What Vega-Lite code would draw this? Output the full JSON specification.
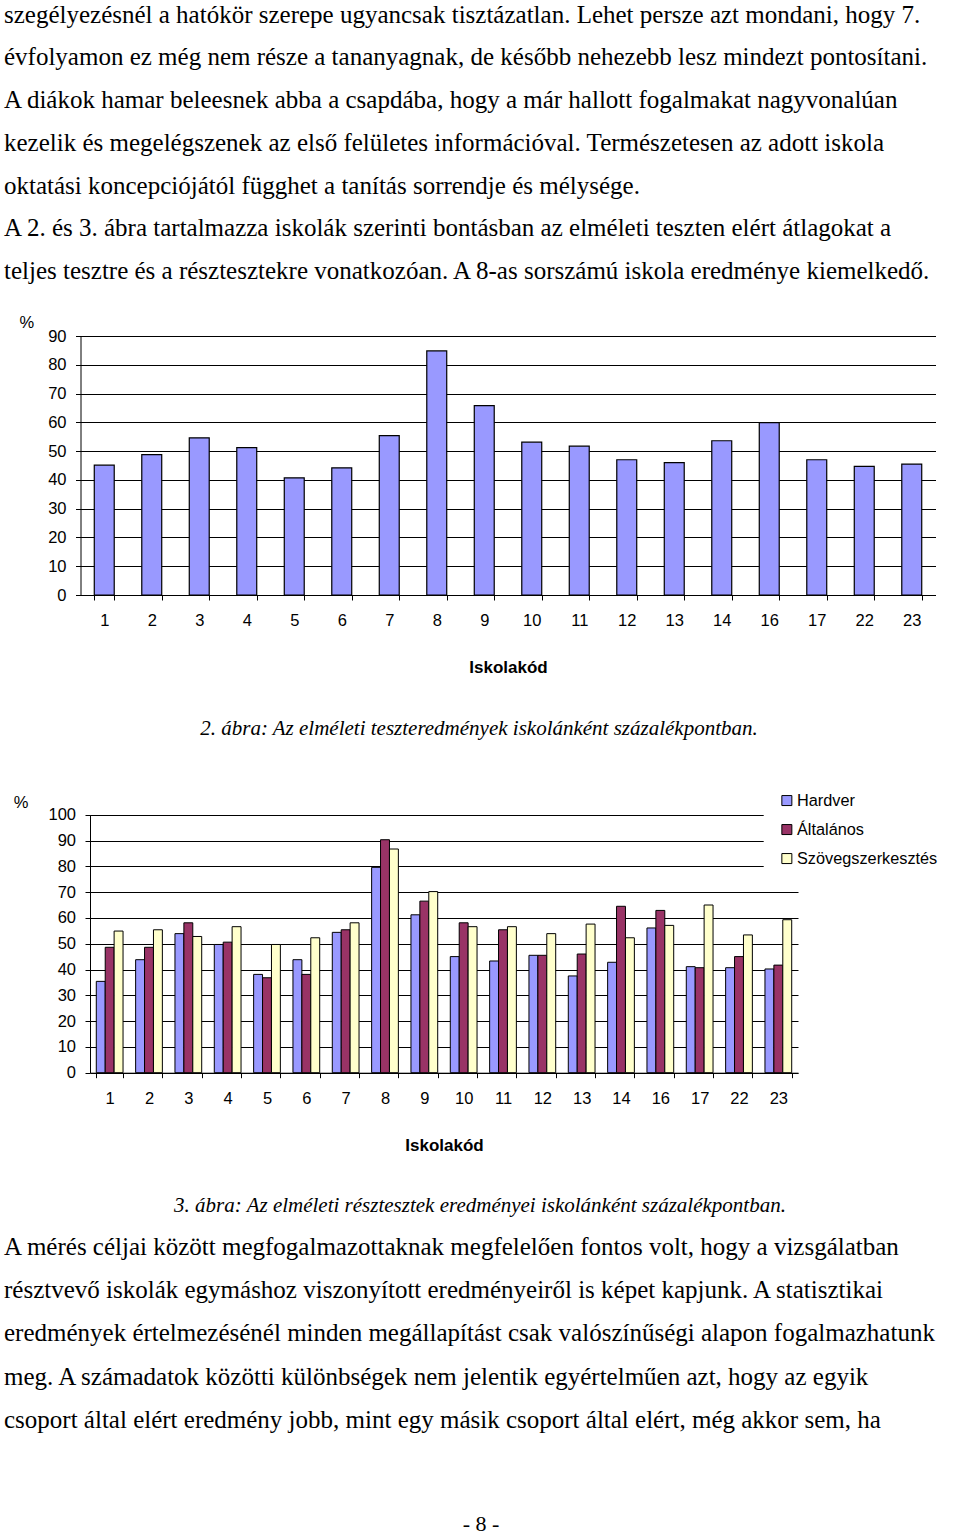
{
  "$schema": "https://vega.github.io/schema/vega-lite/v6.json",
  "background": "white",
  "padding": 0,
  "autosize": {"type": "none"},
  "width": 960,
  "height": 1537,
  "config": {
    "view": {"stroke": null},
    "axis": {
      "labelFont": "Liberation Sans", "labelFontSize": 16.5, "labelColor": "black",
      "titleFont": "Liberation Sans", "titleFontSize": 17, "titleColor": "black",
      "domainColor": "black", "domainWidth": 1, "tickColor": "black", "tickWidth": 1, "tickSize": 5,
      "gridColor": "black", "gridOpacity": 1, "gridWidth": 1
    }
  },
  "datasets": {
    "top": [
      {"line": 1, "text": "szegélyezésnél a hatókör szerepe ugyancsak tisztázatlan. Lehet persze azt mondani, hogy 7."},
      {"line": 2, "text": "évfolyamon ez még nem része a tananyagnak, de később nehezebb lesz mindezt pontosítani."},
      {"line": 3, "text": "A diákok hamar beleesnek abba a csapdába, hogy a már hallott fogalmakat nagyvonalúan"},
      {"line": 4, "text": "kezelik és megelégszenek az első felületes információval. Természetesen az adott iskola"},
      {"line": 5, "text": "oktatási koncepciójától függhet a tanítás sorrendje és mélysége."},
      {"line": 6, "text": "A 2. és 3. ábra tartalmazza iskolák szerinti bontásban az elméleti teszten elért átlagokat a"},
      {"line": 7, "text": "teljes tesztre és a résztesztekre vonatkozóan. A 8-as sorszámú iskola eredménye kiemelkedő."}
    ],
    "caption1": [
      {"line": 0, "text": "2. ábra: Az elméleti teszteredmények iskolánként százalékpontban."}
    ],
    "caption2": [
      {"line": 0, "text": "3. ábra: Az elméleti résztesztek eredményei iskolánként százalékpontban."}
    ],
    "bottom": [
      {"line": 1, "text": "A mérés céljai között megfogalmazottaknak megfelelően fontos volt, hogy a vizsgálatban"},
      {"line": 2, "text": "résztvevő iskolák egymáshoz viszonyított eredményeiről is képet kapjunk. A statisztikai"},
      {"line": 3, "text": "eredmények értelmezésénél minden megállapítást csak valószínűségi alapon fogalmazhatunk"},
      {"line": 4, "text": "meg. A számadatok közötti különbségek nem jelentik egyértelműen azt, hogy az egyik"},
      {"line": 5, "text": "csoport által elért eredmény jobb, mint egy másik csoport által elért, még akkor sem, ha"}
    ],
    "pagenum": [
      {"line": 0, "text": "- 8 -"}
    ],
    "chart1": [
      {"code": "1", "pct": 45.1}, {"code": "2", "pct": 48.8}, {"code": "3", "pct": 54.6},
      {"code": "4", "pct": 51.2}, {"code": "5", "pct": 40.7}, {"code": "6", "pct": 44.2},
      {"code": "7", "pct": 55.4}, {"code": "8", "pct": 84.8}, {"code": "9", "pct": 65.8},
      {"code": "10", "pct": 53.1}, {"code": "11", "pct": 51.7}, {"code": "12", "pct": 47.0},
      {"code": "13", "pct": 46.0}, {"code": "14", "pct": 53.6}, {"code": "16", "pct": 59.9},
      {"code": "17", "pct": 47.0}, {"code": "22", "pct": 44.7}, {"code": "23", "pct": 45.5}
    ],
    "chart2": [
      {"code": "1", "teszt": "Hardver", "pct": 35.4}, {"code": "1", "teszt": "Általános", "pct": 48.6}, {"code": "1", "teszt": "Szövegszerkesztés", "pct": 54.9},
      {"code": "2", "teszt": "Hardver", "pct": 43.8}, {"code": "2", "teszt": "Általános", "pct": 48.6}, {"code": "2", "teszt": "Szövegszerkesztés", "pct": 55.4},
      {"code": "3", "teszt": "Hardver", "pct": 53.9}, {"code": "3", "teszt": "Általános", "pct": 58.1}, {"code": "3", "teszt": "Szövegszerkesztés", "pct": 52.8},
      {"code": "4", "teszt": "Hardver", "pct": 49.7}, {"code": "4", "teszt": "Általános", "pct": 50.6}, {"code": "4", "teszt": "Szövegszerkesztés", "pct": 56.6},
      {"code": "5", "teszt": "Hardver", "pct": 38.1}, {"code": "5", "teszt": "Általános", "pct": 36.8}, {"code": "5", "teszt": "Szövegszerkesztés", "pct": 49.7},
      {"code": "6", "teszt": "Hardver", "pct": 43.8}, {"code": "6", "teszt": "Általános", "pct": 38.1}, {"code": "6", "teszt": "Szövegszerkesztés", "pct": 52.3},
      {"code": "7", "teszt": "Hardver", "pct": 54.4}, {"code": "7", "teszt": "Általános", "pct": 55.4}, {"code": "7", "teszt": "Szövegszerkesztés", "pct": 58.1},
      {"code": "8", "teszt": "Hardver", "pct": 79.6}, {"code": "8", "teszt": "Általános", "pct": 90.3}, {"code": "8", "teszt": "Szövegszerkesztés", "pct": 86.7},
      {"code": "9", "teszt": "Hardver", "pct": 61.2}, {"code": "9", "teszt": "Általános", "pct": 66.5}, {"code": "9", "teszt": "Szövegszerkesztés", "pct": 70.2},
      {"code": "10", "teszt": "Hardver", "pct": 45.0}, {"code": "10", "teszt": "Általános", "pct": 58.1}, {"code": "10", "teszt": "Szövegszerkesztés", "pct": 56.6},
      {"code": "11", "teszt": "Hardver", "pct": 43.3}, {"code": "11", "teszt": "Általános", "pct": 55.4}, {"code": "11", "teszt": "Szövegszerkesztés", "pct": 56.6},
      {"code": "12", "teszt": "Hardver", "pct": 45.5}, {"code": "12", "teszt": "Általános", "pct": 45.5}, {"code": "12", "teszt": "Szövegszerkesztés", "pct": 53.9},
      {"code": "13", "teszt": "Hardver", "pct": 37.5}, {"code": "13", "teszt": "Általános", "pct": 46.0}, {"code": "13", "teszt": "Szövegszerkesztés", "pct": 57.6},
      {"code": "14", "teszt": "Hardver", "pct": 42.8}, {"code": "14", "teszt": "Általános", "pct": 64.5}, {"code": "14", "teszt": "Szövegszerkesztés", "pct": 52.3},
      {"code": "16", "teszt": "Hardver", "pct": 56.1}, {"code": "16", "teszt": "Általános", "pct": 62.9}, {"code": "16", "teszt": "Szövegszerkesztés", "pct": 57.1},
      {"code": "17", "teszt": "Hardver", "pct": 41.1}, {"code": "17", "teszt": "Általános", "pct": 40.7}, {"code": "17", "teszt": "Szövegszerkesztés", "pct": 65.0},
      {"code": "22", "teszt": "Hardver", "pct": 40.7}, {"code": "22", "teszt": "Általános", "pct": 45.0}, {"code": "22", "teszt": "Szövegszerkesztés", "pct": 53.4},
      {"code": "23", "teszt": "Hardver", "pct": 40.2}, {"code": "23", "teszt": "Általános", "pct": 41.7}, {"code": "23", "teszt": "Szövegszerkesztés", "pct": 59.3}
    ]
  },
  "resolve": {
    "scale": {"x": "independent", "y": "independent", "xOffset": "independent", "color": "independent"},
    "axis": {"x": "independent", "y": "independent"}
  },
  "layer": [
    {
      "data": {"name": "top"},
      "mark": {"type": "text", "align": "left", "baseline": "alphabetic", "font": "Liberation Serif", "fontSize": 25, "color": "black"},
      "encoding": {
        "x": {"datum": 4, "type": "quantitative", "scale": {"domain": [0, 960], "range": [0, 960], "nice": false, "zero": false}, "axis": null},
        "y": {"field": "line", "type": "quantitative", "scale": {"domain": [1, 7], "range": [22.5, 279], "nice": false, "zero": false}, "axis": null},
        "text": {"field": "text"}
      }
    },
    {
      "data": {"name": "chart1"},
      "mark": {"type": "bar", "fill": "#9999FF", "stroke": "black", "strokeWidth": 1.2},
      "encoding": {
        "x": {
          "field": "code", "type": "ordinal", "sort": null,
          "scale": {"range": [80.5, 935.5], "paddingInner": 0.58, "paddingOuter": 0.29},
          "axis": {
            "orient": "bottom", "offset": -942,
            "title": "Iskolakód", "labelAngle": 0, "tickBand": "extent", "grid": false,
            "labelBaseline": "middle", "labelPadding": 20,
            "titleY": 72, "titleBaseline": "middle", "titleFontWeight": "bold"
          }
        },
        "y": {
          "field": "pct", "type": "quantitative",
          "scale": {"domain": [0, 90], "range": [595, 336], "nice": false},
          "axis": {
            "orient": "left", "offset": -80.5,
            "title": "%", "values": [0, 10, 20, 30, 40, 50, 60, 70, 80, 90], "grid": true,
            "titleAngle": 0, "titleX": -61.5, "titleY": 322, "titleAlign": "left", "titleBaseline": "middle",
            "titleFontWeight": "normal", "titleFontSize": 16.5, "labelPadding": 9.5
          }
        }
      }
    },
    {
      "data": {"name": "caption1"},
      "mark": {"type": "text", "align": "center", "baseline": "alphabetic", "font": "Liberation Serif", "fontStyle": "italic", "fontSize": 21, "color": "black"},
      "encoding": {
        "x": {"datum": 479, "type": "quantitative", "scale": {"domain": [0, 960], "range": [0, 960], "nice": false, "zero": false}, "axis": null},
        "y": {"field": "line", "type": "quantitative", "scale": {"domain": [0, 1], "range": [735, 778.2], "nice": false, "zero": false}, "axis": null},
        "text": {"field": "text"}
      }
    },
    {
      "data": {"name": "chart2"},
      "mark": {"type": "bar", "stroke": "black", "strokeWidth": 1},
      "encoding": {
        "x": {
          "field": "code", "type": "ordinal", "sort": null,
          "scale": {"range": [90, 798], "paddingInner": 0.32, "paddingOuter": 0.16},
          "axis": {
            "orient": "bottom", "offset": -464.3,
            "title": "Iskolakód", "labelAngle": 0, "tickBand": "extent", "grid": false,
            "labelBaseline": "middle", "labelPadding": 21,
            "titleY": 72.3, "titleBaseline": "middle", "titleFontWeight": "bold"
          }
        },
        "xOffset": {
          "field": "teszt", "type": "nominal",
          "sort": ["Hardver", "Általános", "Szövegszerkesztés"],
          "scale": {"paddingInner": 0, "paddingOuter": 0}
        },
        "y": {
          "field": "pct", "type": "quantitative",
          "scale": {"domain": [0, 100], "range": [1072.7, 814.7], "nice": false},
          "axis": {
            "orient": "left", "offset": -90,
            "title": "%", "values": [0, 10, 20, 30, 40, 50, 60, 70, 80, 90, 100], "grid": true,
            "titleAngle": 0, "titleX": -76.7, "titleY": 802.7, "titleAlign": "left", "titleBaseline": "middle",
            "titleFontWeight": "normal", "titleFontSize": 16.5, "labelPadding": 9.5
          }
        },
        "color": {
          "field": "teszt", "type": "nominal",
          "scale": {"domain": ["Hardver", "Általános", "Szövegszerkesztés"], "range": ["#9999FF", "#993366", "#FFFFCC"]},
          "legend": {
            "title": null, "orient": "none", "legendX": 763.7, "legendY": 777.4,
            "fillColor": "white", "padding": 15, "symbolType": "square", "symbolSize": 100,
            "symbolStrokeColor": "black", "symbolStrokeWidth": 1, "symbolOpacity": 1,
            "labelFont": "Liberation Sans", "labelFontSize": 16.3, "labelColor": "black",
            "labelOffset": 2, "rowPadding": 12
          }
        }
      }
    },
    {
      "data": {"name": "caption2"},
      "mark": {"type": "text", "align": "center", "baseline": "alphabetic", "font": "Liberation Serif", "fontStyle": "italic", "fontSize": 21, "color": "black"},
      "encoding": {
        "x": {"datum": 480, "type": "quantitative", "scale": {"domain": [0, 960], "range": [0, 960], "nice": false, "zero": false}, "axis": null},
        "y": {"field": "line", "type": "quantitative", "scale": {"domain": [0, 1], "range": [1212, 1255.2], "nice": false, "zero": false}, "axis": null},
        "text": {"field": "text"}
      }
    },
    {
      "data": {"name": "bottom"},
      "mark": {"type": "text", "align": "left", "baseline": "alphabetic", "font": "Liberation Serif", "fontSize": 25, "color": "black"},
      "encoding": {
        "x": {"datum": 4, "type": "quantitative", "scale": {"domain": [0, 960], "range": [0, 960], "nice": false, "zero": false}, "axis": null},
        "y": {"field": "line", "type": "quantitative", "scale": {"domain": [1, 5], "range": [1255, 1427.8], "nice": false, "zero": false}, "axis": null},
        "text": {"field": "text"}
      }
    },
    {
      "data": {"name": "pagenum"},
      "mark": {"type": "text", "align": "center", "baseline": "alphabetic", "font": "Liberation Serif", "fontSize": 22, "color": "black"},
      "encoding": {
        "x": {"datum": 481, "type": "quantitative", "scale": {"domain": [0, 960], "range": [0, 960], "nice": false, "zero": false}, "axis": null},
        "y": {"field": "line", "type": "quantitative", "scale": {"domain": [0, 1], "range": [1531, 1574], "nice": false, "zero": false}, "axis": null},
        "text": {"field": "text"}
      }
    }
  ]
}
